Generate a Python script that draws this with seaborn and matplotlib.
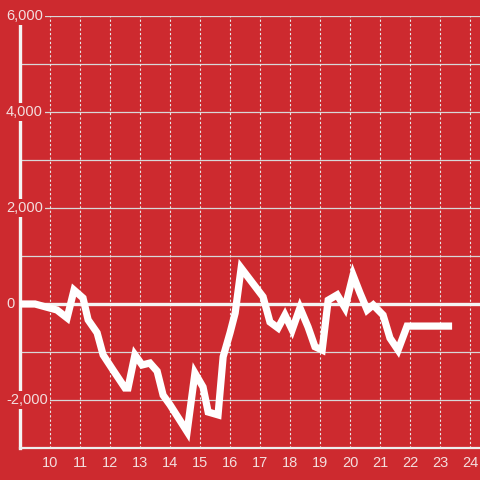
import matplotlib
matplotlib.use('Agg')
import matplotlib.pyplot as plt
import seaborn as sns
import pandas as pd

# valores
x_vals = [9.0, 9.5, 10.23, 10.57, 10.8, 11.1, 11.27, 11.57, 11.77, 12.1, 12.5, 12.6,
          12.83, 13.07, 13.33, 13.57, 13.77, 14.0, 14.57, 14.83, 15.1, 15.27, 15.6,
          15.77, 16.0, 16.17, 16.37, 17.1, 17.33, 17.6, 17.83, 18.07, 18.33, 18.6,
          18.83, 19.07, 19.27, 19.57, 19.83, 20.1, 20.33, 20.57, 20.77, 21.1, 21.33,
          21.6, 21.9, 23.4]
y_vals = [0, 0, -125, -290, 290, 125, -330, -600, -1060, -1375, -1750, -1750,
          -1060, -1270, -1230, -1400, -1900, -2100, -2660, -1440, -1730, -2250, -2310,
          -1100, -600, -190, 750, 150, -375, -500, -230, -540, -80, -480,
          -890, -960, 80, 190, -80, 600, 230, -125, -20, -230, -710,
          -960, -460, -460]

y_ticks = [-2000, 0, 2000, 4000, 6000]
y_labels = ['-2,000', '0', '2,000', '4,000', '6,000']
x_ticks = list(range(10, 25))

df = pd.DataFrame({'x': x_vals, 'y': y_vals})

rojo = '#cd2a2f'
claro = '#f3dede'

sns.set_style('white')
plt.rcParams['font.family'] = ['Liberation Sans', 'DejaVu Sans']

fig = plt.figure(figsize=(4.8, 4.8), dpi=100, facecolor=rojo)
ax = fig.add_axes([20 / 480, 32 / 480, 460 / 480, 432 / 480])
ax.set_facecolor(rojo)

# rejilla
for v in range(-3000, 6001, 1000):
    ax.axhline(v, color='#d8d8d8', lw=0.9, zorder=1)
for t in x_ticks:
    ax.axvline(t, color='#e8e8e8', lw=0.8, ls=(0, (2, 2)), zorder=1)
ax.axhline(0, color='#f4f4f4', lw=2.4, zorder=1.5)

sns.lineplot(data=df, x='x', y='y', ax=ax, color='white', lw=5.2,
             solid_joinstyle='miter', solid_capstyle='butt', zorder=3)

ax.set_xlim(9, 24.33)
ax.set_ylim(-3000, 6000)
ax.set_xticks(x_ticks)
ax.set_xticklabels([str(t) for t in x_ticks])
ax.set_yticks([])
ax.tick_params(axis='x', length=0, pad=5.5, labelsize=10.5, colors=claro)
ax.set_xlabel('')
ax.set_ylabel('')

for s in ['top', 'right']:
    ax.spines[s].set_visible(False)
ax.spines['left'].set_color('#f4f4f4')
ax.spines['left'].set_linewidth(2.4)
ax.spines['left'].set_zorder(1.6)
ax.spines['bottom'].set_color('#eeeeee')
ax.spines['bottom'].set_linewidth(1.6)

# etiquetas del eje y encima del eje
trans = ax.get_yaxis_transform()
for v, lab in zip(y_ticks, y_labels):
    ax.text(-14 / 460, v, lab, transform=trans, ha='left', va='center',
            fontsize=10.5, color=claro, zorder=5, clip_on=False,
            bbox=dict(facecolor=rojo, edgecolor='none', pad=1.5))

fig.savefig('out.png', dpi=100, facecolor=rojo)
